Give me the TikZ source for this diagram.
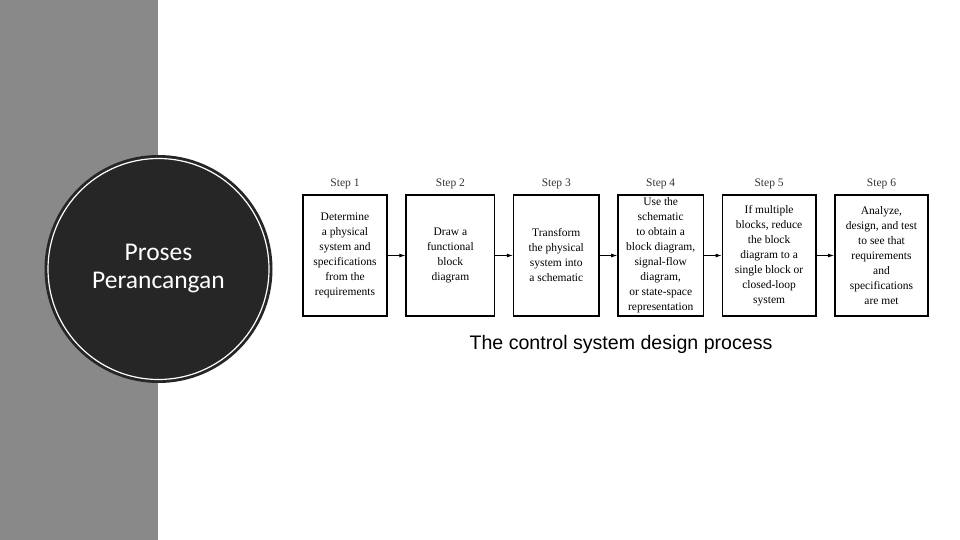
\documentclass[tikz,border=0pt]{standalone}
\usepackage{fontspec}
\setmainfont{Liberation Serif}
\newfontfamily\captionfont{Liberation Sans}
\newfontfamily\titlefont{Carlito}
\usepackage{xcolor}
\usetikzlibrary{arrows.meta, positioning}

\definecolor{bandgray}{HTML}{898989}
\definecolor{darkdisc}{HTML}{262626}

\begin{document}
\begin{tikzpicture}[
  x=1pt, y=-1pt,
  node distance=17.4pt,
  stepbox/.style={rectangle, draw=black, line width=1.6pt, fill=white,
              text=black, minimum height=121pt, inner sep=0pt,
              align=center, font=\fontsize{11.5}{15}\selectfont},
  steplabel/.style={font=\fontsize{11.5}{13}\selectfont, text=black!80, inner sep=0pt},
  arrow/.style={-{Latex[length=6pt, width=4pt]}, line width=0.8pt},
  disc/.style={circle, fill=darkdisc, draw=darkdisc, line width=3pt,
               minimum size=225pt, inner sep=0pt, text=white, align=center,
               font=\titlefont\fontsize{25.5}{28}\selectfont},
]
  \useasboundingbox (0,0) rectangle (960,540);
  \fill[bandgray] (0,0) rectangle (158,540);

  % title disc
  \node[disc] (title) at (158.5,269) {Proses\\Perancangan};
  \draw[white, line width=1.2pt] (title.center) circle[radius=110.5];

  % design steps
  \node[stepbox, minimum width=84.4pt, anchor=west] (determine) at (302,255.5)
    {Determine\\a physical\\system and\\specifications\\from the\\requirements};
  \node[stepbox, minimum width=88.4pt, right=of determine] (draw)
    {Draw a\\functional\\block\\diagram};
  \node[stepbox, minimum width=85.4pt, right=of draw] (transform)
    {Transform\\the physical\\system into\\a schematic};
  \node[stepbox, minimum width=85.4pt, right=of transform] (schematic)
    {Use the\\schematic\\to obtain a\\block diagram,\\signal-flow\\diagram,\\or state-space\\representation};
  \node[stepbox, minimum width=93.4pt, right=of schematic] (reduce)
    {If multiple\\blocks, reduce\\the block\\diagram to a\\single block or\\closed-loop\\system};
  \node[stepbox, minimum width=93.4pt, right=of reduce] (analyze)
    {Analyze,\\design, and test\\to see that\\requirements\\and\\specifications\\are met};

  \node[steplabel, above=5pt of determine] (s1) {Step 1};
  \node[steplabel, above=5pt of draw]      (s2) {Step 2};
  \node[steplabel, above=5pt of transform] (s3) {Step 3};
  \node[steplabel, above=5pt of schematic] (s4) {Step 4};
  \node[steplabel, above=5pt of reduce]    (s5) {Step 5};
  \node[steplabel, above=5pt of analyze]   (s6) {Step 6};

  \draw[arrow] (determine) -- (draw);
  \draw[arrow] (draw)      -- (transform);
  \draw[arrow] (transform) -- (schematic);
  \draw[arrow] (schematic) -- (reduce);
  \draw[arrow] (reduce)    -- (analyze);

  \node[font=\captionfont\fontsize{19.6}{22}\selectfont] (caption) at (621,344)
    {The control system design process};
\end{tikzpicture}
\end{document}
